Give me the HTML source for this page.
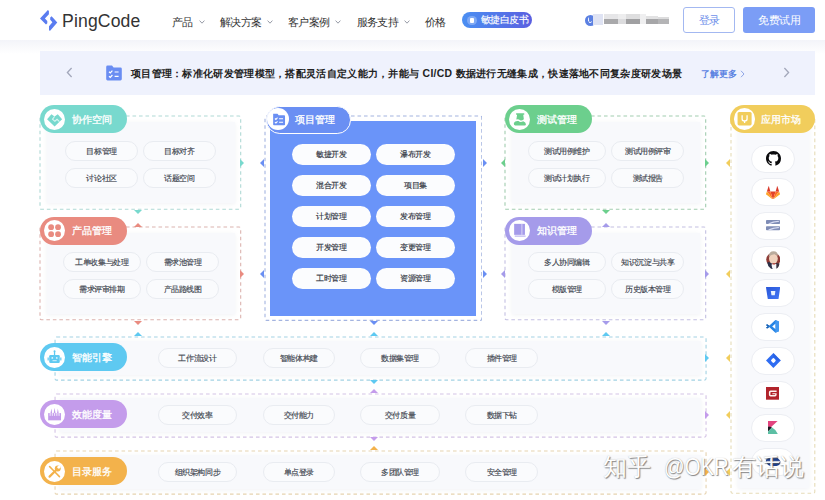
<!DOCTYPE html>
<html><head><meta charset="utf-8"><title>PingCode</title>
<style>
*{box-sizing:border-box;margin:0;padding:0}
html,body{width:825px;height:500px;overflow:hidden;background:#fff}
body{position:relative;font-family:"Liberation Sans",sans-serif;color:#333}
.abs{position:absolute}
.nav{position:absolute;top:14.5px;height:14px;line-height:14px;font-size:10.8px;letter-spacing:-0.6px;color:#333;white-space:nowrap}
.chev{position:absolute;top:19.8px;width:6px;height:4px}
.dash{position:absolute;border:1px dashed;border-radius:2px}
.inner{position:absolute;background:#f8f9fc;box-shadow:0 1px 4px rgba(120,130,160,.10)}
.lab{position:absolute;height:28.2px;border-radius:14.1px;color:#fff;font-size:10px;line-height:28.2px;white-space:nowrap}
.lab i{position:absolute;left:3.6px;top:3.4px;width:21.2px;height:21.2px;border-radius:50%;background:#fff;display:block}
.lab span{position:absolute;left:31.6px;top:0.6px;font-size:10.4px;letter-spacing:0;-webkit-text-stroke:0.3px #fff}
.pill{position:absolute;height:20.5px;border-radius:10.25px;border:1px solid #e9ecf1;background:#fafbfd;font-size:8.2px;letter-spacing:-0.4px;line-height:19px;text-align:center;color:#40454f;-webkit-text-stroke:0.15px #40454f;white-space:nowrap}
.wp{position:absolute;height:21px;border-radius:10.5px;background:#fbfcfe;font-size:8.2px;letter-spacing:-0.4px;line-height:22.4px;text-align:center;color:#2f3440;-webkit-text-stroke:0.15px #2f3440;white-space:nowrap}
.ip{position:absolute;left:751px;width:44px;height:28px;border-radius:14px;border:1px solid #eceef3;background:#fff}
.tri{position:absolute;width:0;height:0;border-style:solid;border-color:transparent}
</style></head><body>

<div class="abs" style="left:0;top:40px;width:825px;height:14px;background:linear-gradient(#f3f4f9,#ffffff)"></div>
<div class="abs" style="left:0;top:0;width:825px;height:40px;background:#fff"></div>
<svg class="abs" style="left:39px;top:9px" width="20" height="23" viewBox="0 0 20 23">
<path d="M8.9 1 L1 9.4 L7 15.6 L8.3 14.3 L8.3 12 L5.9 9.5 L9.9 5.2 L9.9 2 Z" fill="#5a7cf0"/>
<path d="M10.9 22 L18.3 13.4 L12.6 7.2 L11.2 8.6 L11.2 10.8 L13.4 13.3 L10 17.3 L10 21 Z" fill="#5a7cf0"/>
</svg>
<div class="abs" style="left:62px;top:9.6px;font-size:17.6px;line-height:22px;color:#333;letter-spacing:0.15px">PingCode</div>
<div class="nav" style="left:171.5px">产品</div>
<svg class="chev" style="left:198.5px" viewBox="0 0 6 4"><path d="M0.6 0.6 L3 3.2 L5.4 0.6" fill="none" stroke="#8a8f9c" stroke-width="0.9"/></svg>
<div class="nav" style="left:220px">解决方案</div>
<svg class="chev" style="left:266.5px" viewBox="0 0 6 4"><path d="M0.6 0.6 L3 3.2 L5.4 0.6" fill="none" stroke="#8a8f9c" stroke-width="0.9"/></svg>
<div class="nav" style="left:288px">客户案例</div>
<svg class="chev" style="left:335px" viewBox="0 0 6 4"><path d="M0.6 0.6 L3 3.2 L5.4 0.6" fill="none" stroke="#8a8f9c" stroke-width="0.9"/></svg>
<div class="nav" style="left:356.5px">服务支持</div>
<svg class="chev" style="left:403.5px" viewBox="0 0 6 4"><path d="M0.6 0.6 L3 3.2 L5.4 0.6" fill="none" stroke="#8a8f9c" stroke-width="0.9"/></svg>
<div class="nav" style="left:425px">价格</div>
<div class="abs" style="left:461.8px;top:11.7px;width:70.2px;height:16.3px;border-radius:8.2px;background:linear-gradient(90deg,#4b8ff2,#5a5fe0)"></div>
<div class="abs" style="left:467px;top:15.5px;width:9.5px;height:9.5px;border-radius:50%;background:#7fa9f5"></div>
<div class="abs" style="left:470px;top:18px;width:3.5px;height:4.5px;border-radius:1px;background:#fff"></div>
<div class="abs" style="left:481px;top:11.9px;height:16.3px;line-height:16.3px;font-size:9.6px;letter-spacing:-0.6px;-webkit-text-stroke:0.12px #fff;color:#fff;white-space:nowrap">敏捷白皮书</div>
<div class="abs" style="left:584.5px;top:14.5px;width:11px;height:11px;border-radius:50%;background:#5b80e2"></div>
<div class="abs" style="left:588px;top:16.5px;width:4px;height:6px;border-radius:2px;border-left:1.5px solid #fff;border-bottom:1.5px solid #fff;transform:rotate(-10deg)"></div>
<div class="abs" style="left:593px;top:14px;width:10px;height:10.5px;background:#dfe3f3"></div>
<div class="abs" style="left:604px;top:14px;width:14px;height:5px;background:#e6e6e8"></div>
<div class="abs" style="left:604px;top:19px;width:14px;height:5px;background:#a9a9ab"></div>
<div class="abs" style="left:618px;top:14px;width:8px;height:5px;background:#ededee"></div>
<div class="abs" style="left:618px;top:19px;width:8px;height:5px;background:#dcdcde"></div>
<div class="abs" style="left:626px;top:14px;width:14px;height:5px;background:#dededf"></div>
<div class="abs" style="left:626px;top:19px;width:14px;height:5px;background:#a0a0a2"></div>
<div class="abs" style="left:640px;top:14px;width:6px;height:10px;background:#efeff0"></div>
<div class="abs" style="left:646px;top:16px;width:12px;height:3px;background:#e2e2e3"></div>
<div class="abs" style="left:646px;top:19px;width:12px;height:5px;background:#a6a6a8"></div>
<div class="abs" style="left:658px;top:17px;width:11px;height:2px;background:#dcdcdd"></div>
<div class="abs" style="left:658px;top:19px;width:11px;height:5px;background:#b4b4b6"></div>
<div class="abs" style="left:683px;top:7px;width:52px;height:25.5px;border:1px solid #a3b8f1;border-radius:3px;background:#fff;color:#6f90ea;font-size:10.8px;letter-spacing:-0.5px;line-height:25.7px;text-align:center">登录</div>
<div class="abs" style="left:743px;top:7px;width:72px;height:25.5px;border-radius:3px;background:#7b9df6;color:#fff;font-size:10.8px;letter-spacing:-0.5px;line-height:27.7px;text-align:center">免费试用</div>
<div class="abs" style="left:40px;top:51px;width:775px;height:43.5px;background:#eff2fd"></div>
<svg class="abs" style="left:66px;top:67px" width="7" height="11" viewBox="0 0 7 11"><path d="M5.6 1 L1.4 5.5 L5.6 10" fill="none" stroke="#a3a8bb" stroke-width="1.3"/></svg>
<svg class="abs" style="left:782.5px;top:67px" width="7" height="11" viewBox="0 0 7 11"><path d="M1.4 1 L5.6 5.5 L1.4 10" fill="none" stroke="#a3a8bb" stroke-width="1.3"/></svg>
<svg class="abs" style="left:106px;top:65px" width="16" height="16" viewBox="0 0 16 16">
<path d="M1.6 0.6 H6 L7.6 2.4 H14.4 A1.4 1.4 0 0 1 15.8 3.8 V14 A1.4 1.4 0 0 1 14.4 15.4 H1.6 A1.4 1.4 0 0 1 0.2 14 V2 A1.4 1.4 0 0 1 1.6 0.6 Z" fill="#6a8df2"/>
<path d="M3 6.8 L4.3 8 L6.4 5.6 M3 11.2 L4.3 12.4 L6.4 10 M8.6 7 H12.6 M8.6 11.4 H12.6" fill="none" stroke="#fff" stroke-width="1.2"/>
</svg>
<div class="abs" id="btxt" style="left:131px;top:66px;height:16px;line-height:16px;font-size:10.4px;letter-spacing:0.3px;font-weight:bold;color:#222;white-space:nowrap">项目管理：标准化研发管理模型，搭配灵活自定义能力，并能与 CI/CD 数据进行无缝集成，快速落地不同复杂度研发场景</div>
<div class="abs" style="left:700.6px;top:65.7px;height:16px;line-height:16px;font-size:8.9px;font-weight:bold;color:#5b83e2;white-space:nowrap">了解更多</div>
<svg class="abs" style="left:740px;top:70px" width="5" height="8" viewBox="0 0 5 8"><path d="M1 0.8 L4 4 L1 7.2" fill="none" stroke="#8fa6e6" stroke-width="1"/></svg>
<svg class="abs" style="left:39.3px;top:115.0px" width="202.7" height="95.3" viewBox="0 0 202.7 95.3"><rect x="1" y="1" width="200.7" height="93.3" rx="1.5" fill="none" stroke="#afd9d5" stroke-width="1.1" stroke-dasharray="3.6 2.9"/></svg>
<div class="inner" style="left:46.5px;top:122.0px;width:188px;height:81.3px"></div>
<div class="lab" style="left:40px;top:105.2px;width:86.5px;background:#78d9ce"><i></i><svg style="position:absolute;left:3.6px;top:3.4px" width="21.2" height="21.2" viewBox="0 0 21.4 21.4"><path d="M3.1 10.3 L7.5 5.2 L10.7 7.6 L13.9 5.2 L18.3 10.3 L10.7 17.8 Z" fill="#78d9ce"/><path d="M10.7 7.6 L8.6 10.2 L11 12.4 L13.2 10.4 L15.6 12.8" fill="none" stroke="#d9f6f2" stroke-width="1.1"/></svg><span>协作空间</span></div>
<div class="pill" style="left:65.3px;top:140.6px;width:72.6px">目标管理</div>
<div class="pill" style="left:143.2px;top:140.6px;width:72.6px">目标对齐</div>
<div class="pill" style="left:65.3px;top:167.5px;width:72.6px">讨论社区</div>
<div class="pill" style="left:143.2px;top:167.5px;width:72.6px">话题空间</div>
<svg class="abs" style="left:39.3px;top:226.3px" width="202.7" height="94.8" viewBox="0 0 202.7 94.8"><rect x="1" y="1" width="200.7" height="92.8" rx="1.5" fill="none" stroke="#dcb3af" stroke-width="1.1" stroke-dasharray="3.6 2.9"/></svg>
<div class="inner" style="left:46.5px;top:233.3px;width:188px;height:80.8px"></div>
<div class="lab" style="left:40px;top:216.5px;width:86.5px;background:#e98b80"><i></i><svg style="position:absolute;left:3.6px;top:3.4px" width="21.2" height="21.2" viewBox="0 0 21.4 21.4"><circle cx="7.2" cy="7.3" r="2.9" fill="#e98b80"/><circle cx="14.2" cy="7.3" r="2.9" fill="#e98b80"/><circle cx="7.2" cy="14.3" r="2.9" fill="#e98b80"/><circle cx="14.2" cy="14.3" r="2.9" fill="#e98b80"/></svg><span>产品管理</span></div>
<div class="pill" style="left:62.9px;top:251.9px;width:78px">工单收集与处理</div>
<div class="pill" style="left:146.3px;top:251.9px;width:72.8px">需求池管理</div>
<div class="pill" style="left:62.9px;top:278.8px;width:78px">需求评审排期</div>
<div class="pill" style="left:146.3px;top:278.8px;width:72.8px">产品路线图</div>
<svg class="abs" style="left:504.3px;top:115.0px" width="202.7" height="95.3" viewBox="0 0 202.7 95.3"><rect x="1" y="1" width="200.7" height="93.3" rx="1.5" fill="none" stroke="#a2cdb0" stroke-width="1.1" stroke-dasharray="3.6 2.9"/></svg>
<div class="inner" style="left:511.5px;top:122.0px;width:188px;height:81.3px"></div>
<div class="lab" style="left:505px;top:105.2px;width:86.5px;background:#6ccf8d"><i></i><svg style="position:absolute;left:3.6px;top:3.4px" width="21.2" height="21.2" viewBox="0 0 21.4 21.4"><path d="M7.2 4.4 H15.4 V5.8 H14.4 L15 10.4 Q12.4 12.4 10.9 11 Q9.4 9.8 7.4 10.6 L8.2 5.8 H7.2 Z" fill="#6ccf8d"/><path d="M4.9 14.2 Q6.2 11.6 9.6 12.2 Q11.4 14 14.4 12.4 Q17 13.4 17.1 15.4 Q17.1 16.7 15.8 16.7 H6.2 Q4.6 16.7 4.9 14.2 Z" fill="#6ccf8d"/></svg><span>测试管理</span></div>
<div class="pill" style="left:527.9px;top:140.6px;width:77.8px">测试用例维护</div>
<div class="pill" style="left:611.3px;top:140.6px;width:73px">测试用例评审</div>
<div class="pill" style="left:527.9px;top:167.5px;width:77.8px">测试计划执行</div>
<div class="pill" style="left:611.3px;top:167.5px;width:73px">测试报告</div>
<svg class="abs" style="left:504.3px;top:226.3px" width="202.7" height="94.8" viewBox="0 0 202.7 94.8"><rect x="1" y="1" width="200.7" height="92.8" rx="1.5" fill="none" stroke="#c4c0e2" stroke-width="1.1" stroke-dasharray="3.6 2.9"/></svg>
<div class="inner" style="left:511.5px;top:233.3px;width:188px;height:80.8px"></div>
<div class="lab" style="left:505px;top:216.5px;width:86.5px;background:#a59bea"><i></i><svg style="position:absolute;left:3.6px;top:3.4px" width="21.2" height="21.2" viewBox="0 0 21.4 21.4"><rect x="5.2" y="3.9" width="10.9" height="11.1" fill="#a59bea"/><rect x="12.5" y="3.9" width="1" height="11.1" fill="#d8d3f7"/><rect x="5.8" y="15.8" width="11" height="0.9" fill="#a59bea"/></svg><span>知识管理</span></div>
<div class="pill" style="left:527.9px;top:251.9px;width:77.8px">多人协同编辑</div>
<div class="pill" style="left:611.3px;top:251.9px;width:73px">知识沉淀与共享</div>
<div class="pill" style="left:527.9px;top:278.8px;width:77.8px">模版管理</div>
<div class="pill" style="left:611.3px;top:278.8px;width:73px">历史版本管理</div>
<svg class="abs" style="left:263.6px;top:115.0px" width="218.8" height="206.4" viewBox="0 0 218.8 206.4"><rect x="1" y="1" width="216.8" height="204.4" rx="1.5" fill="none" stroke="#a4b4e0" stroke-width="1.1" stroke-dasharray="3.6 2.9"/></svg>
<div class="abs" style="left:269.5px;top:121px;width:206.7px;height:194.5px;background:#6a94f9"></div>
<div class="lab" style="left:265.8px;top:106.4px;width:85.4px;height:27.6px;border-radius:13.8px;border:1.7px solid #fff;background:#6a8ff3;line-height:24.2px"><i style="left:0.7px;top:1px;width:21.8px;height:21.8px"></i><svg style="position:absolute;left:1px;top:1.3px" width="21.2" height="21.2" viewBox="0 0 21.4 21.4"><path d="M5.2 4.8 H9.6 L10.8 6.4 H16.4 Q17.2 6.4 17.2 7.2 V15.6 Q17.2 16.4 16.4 16.4 H6 Q5.2 16.4 5.2 15.6 Z" fill="#6a8ff3"/><path d="M7 9.6 L8 10.6 L9.6 8.8 M7 13.2 L8 14.2 L9.6 12.4 M11.2 9.8 H15.2 M11.2 13.4 H15.2" fill="none" stroke="#fff" stroke-width="1.1"/></svg><span style="left:28.4px">项目管理</span></div>
<div class="wp" style="left:291.5px;top:144px;width:79.4px">敏捷开发</div>
<div class="wp" style="left:375.7px;top:144px;width:79.4px">瀑布开发</div>
<div class="wp" style="left:291.5px;top:175px;width:79.4px">混合开发</div>
<div class="wp" style="left:375.7px;top:175px;width:79.4px">项目集</div>
<div class="wp" style="left:291.5px;top:206px;width:79.4px">计划管理</div>
<div class="wp" style="left:375.7px;top:206px;width:79.4px">发布管理</div>
<div class="wp" style="left:291.5px;top:237px;width:79.4px">开发管理</div>
<div class="wp" style="left:375.7px;top:237px;width:79.4px">变更管理</div>
<div class="wp" style="left:291.5px;top:268px;width:79.4px">工时管理</div>
<div class="wp" style="left:375.7px;top:268px;width:79.4px">资源管理</div>
<svg class="abs" style="left:730.0px;top:115.0px" width="85.8" height="379.3" viewBox="0 0 85.8 379.3"><rect x="1" y="1" width="83.8" height="377.3" rx="1.5" fill="none" stroke="#e6dcb8" stroke-width="1.1" stroke-dasharray="3.6 2.9"/></svg>
<div class="inner" style="left:737.5px;top:122px;width:71px;height:365.5px"></div>
<div class="lab" style="left:730.4px;top:105.1px;width:84.6px;height:27.9px;line-height:27.9px;background:#f1cd5c"><i></i><svg style="position:absolute;left:3.6px;top:3.4px" width="21.2" height="21.2" viewBox="0 0 21.4 21.4"><rect x="3.6" y="4" width="14.2" height="13.6" rx="1.6" fill="#f1cd5c"/><path d="M8.2 7.4 V11 Q8.2 13 10.7 13 Q13.2 13 13.2 11 V7.4 M10.7 13 V15.2" fill="none" stroke="#fff" stroke-width="1.3"/></svg><span style="left:30.5px">应用市场</span></div>
<div class="ip" style="top:144.6px"></div>
<div class="ip" style="top:178.3px"></div>
<div class="ip" style="top:212.0px"></div>
<div class="ip" style="top:245.7px"></div>
<div class="ip" style="top:279.4px"></div>
<div class="ip" style="top:313.1px"></div>
<div class="ip" style="top:346.8px"></div>
<div class="ip" style="top:380.5px"></div>
<div class="ip" style="top:414.2px"></div>
<div class="ip" style="top:447.9px"></div>
<svg class="abs" style="left:765.5px;top:151.1px" width="15" height="15" viewBox="0 0 16 16" preserveAspectRatio="none"><path d="M8 0C3.58 0 0 3.58 0 8c0 3.54 2.29 6.53 5.47 7.59.4.07.55-.17.55-.38 0-.19-.01-.82-.01-1.49-2.01.37-2.53-.49-2.69-.94-.09-.23-.48-.94-.82-1.13-.28-.15-.68-.52-.01-.53.63-.01 1.08.58 1.23.82.72 1.21 1.87.87 2.33.66.07-.52.28-.87.51-1.07-1.78-.2-3.64-.89-3.64-3.95 0-.87.31-1.59.82-2.15-.08-.2-.36-1.02.08-2.12 0 0 .67-.21 2.2.82.64-.18 1.32-.27 2-.27.68 0 1.36.09 2 .27 1.53-1.04 2.2-.82 2.2-.82.44 1.1.16 1.92.08 2.12.51.56.82 1.27.82 2.15 0 3.07-1.87 3.75-3.65 3.95.29.25.54.73.54 1.48 0 1.07-.01 1.93-.01 2.2 0 .21.15.46.55.38A8.013 8.013 0 0016 8c0-4.42-3.58-8-8-8z" fill="#0b0b0d"/></svg>
<svg class="abs" style="left:766.3px;top:185.8px" width="14" height="13.6" viewBox="0 0 14 13.6" preserveAspectRatio="none"><path d="M7 13.6 L4.4 5.4 H9.6 Z" fill="#e24329"/><path d="M7 13.6 L4.4 5.4 H0.9 Z" fill="#fc6d26"/><path d="M7 13.6 L9.6 5.4 H13.1 Z" fill="#fc6d26"/><path d="M0.9 5.4 L0.1 7.8 Q0 8.2 0.3 8.5 L7 13.6 Z" fill="#fca326"/><path d="M13.1 5.4 L13.9 7.8 Q14 8.2 13.7 8.5 L7 13.6 Z" fill="#fca326"/><path d="M0.9 5.4 H4.4 L2.9 0.4 Q2.7 0 2.5 0.4 Z" fill="#d9392a"/><path d="M13.1 5.4 H9.6 L11.1 0.4 Q11.3 0 11.5 0.4 Z" fill="#d9392a"/></svg>
<svg class="abs" style="left:766.0px;top:220.4px" width="14" height="10.4" viewBox="0 0 14 10.4" preserveAspectRatio="none"><rect x="0" y="0" width="14" height="4" rx="0.8" fill="#7f8db6"/><path d="M2 3.4 Q7 1 12.5 0.8 L13.4 1.8 Q8 2.4 4 4 Z" fill="#d7dcf3"/><rect x="0" y="6.2" width="14" height="4" rx="0.8" fill="#7f8db6"/><path d="M2 9.6 Q7 7.2 12.5 7 L13.4 8 Q8 8.6 4 10.2 Z" fill="#d7dcf3"/></svg>
<svg class="abs" style="left:765.7px;top:250.5px" width="14.6" height="18.6" viewBox="0 0 13.6 18.6" preserveAspectRatio="none"><ellipse cx="6.8" cy="8.6" rx="6.6" ry="6.8" fill="#8e3b36"/><path d="M1.6 11 Q0.8 15 4.4 17.6 L7 18.4 L7 12 Z" fill="#2b2f47"/><path d="M9 12 L12.6 12.4 Q12.4 15 10.8 17 L8.8 18 Z" fill="#3a3340"/><path d="M5.4 13 H9.6 V18.6 H6.6 Q5 16.4 5.4 13 Z" fill="#f7f7fa"/><ellipse cx="6.9" cy="7.6" rx="4.1" ry="5.2" fill="#efd2bd"/><path d="M2.6 6 Q2.6 0.4 6.9 0.2 Q11.2 0.4 11.2 5 Q9.4 3 6.9 3.4 Q4.2 3.4 2.6 6 Z" fill="#b9ab9c"/><rect x="6" y="12.2" width="2.6" height="1.2" rx="0.5" fill="#b03a34"/></svg>
<svg class="abs" style="left:766.1px;top:286.9px" width="14.2" height="12.2" viewBox="0 0 14.2 12.2" preserveAspectRatio="none"><defs><linearGradient id="bb" x1="0" y1="0" x2="1" y2="1"><stop offset="0" stop-color="#2a57d8"/><stop offset="1" stop-color="#4277f6"/></linearGradient></defs><path d="M0.4 0 H13.8 Q14.3 0 14.2 0.5 L12.6 11.6 Q12.5 12.2 11.9 12.2 H2.4 Q1.8 12.2 1.7 11.6 L0 0.5 Q-0.1 0 0.4 0 Z" fill="url(#bb)"/><path d="M4.8 4 H9.4 L8.8 8.2 H5.5 Z" fill="#e9f3ff"/></svg>
<svg class="abs" style="left:765.7px;top:320.0px" width="13.4" height="12.8" viewBox="0 0 13.4 12.8" preserveAspectRatio="none"><path d="M9.4 0 L13.4 1.8 V11 L9.4 12.8 L3.2 7 L1.2 8.6 L0 7.8 L1.6 6.4 L0 5 L1.2 4.2 L3.2 5.8 Z" fill="#2684e4"/><path d="M9.6 3.6 L6.2 6.4 L9.6 9.2 Z" fill="#fff"/><path d="M9.4 0 L13.4 1.8 V11 L9.4 12.8 Z" fill="#4a9df2" opacity=".8"/><path d="M0 5 L1.2 4.2 L3.6 6.1 L2.2 7 Z M0 7.8 L1.2 8.6 L3.4 6.9 L2.2 6 Z" fill="#1c5fae"/></svg>
<svg class="abs" style="left:766.0px;top:352.5px" width="14.8" height="15" viewBox="0 0 14.8 15" preserveAspectRatio="none"><path d="M7.4 0 L14.8 7.5 L7.4 15 L0 7.5 Z" fill="#2f6df2"/><path d="M7.4 0 L14.8 7.5 L11.2 7.5 L7.4 3.6 Z" fill="#2359d8" opacity=".55"/><rect x="5.4" y="5.5" width="4" height="4" rx="1.2" fill="#fff" transform="rotate(45 7.4 7.5)"/></svg>
<svg class="abs" style="left:766.4px;top:387.0px" width="13" height="12.7" viewBox="0 0 13 12.7" preserveAspectRatio="none"><rect width="13" height="12.7" fill="#b1232b"/><path d="M10.6 3.6 H4.6 Q2.9 3.6 2.9 5.2 V7.8 Q2.9 9.4 4.6 9.4 H9 Q10.6 9.4 10.6 7.8 V6.2 H6.4 V7.2 H9.2 V7.6 Q9.2 8.1 8.6 8.1 H5 Q4.4 8.1 4.4 7.6 V5.4 Q4.4 4.9 5 4.9 H10.6 Z" fill="#fdf3f0"/></svg>
<svg class="abs" style="left:767.8px;top:420.8px" width="9.8" height="13" viewBox="0 0 9.8 13" preserveAspectRatio="none"><path d="M0 0 H9.6 L2.6 6.4 L0 5.6 Z" fill="#e2457f"/><path d="M0 5.4 Q2.2 5.4 4 6.6 L0 10.6 Z" fill="#17171f"/><path d="M4 6.6 Q8 8.6 9.8 13 H0 V10.6 Z" fill="#5cbfa4"/></svg>
<svg class="abs" style="left:765.4px;top:456.6px" width="15.6" height="9.4" viewBox="0 0 15.6 9.4" preserveAspectRatio="none"><path d="M1 5 Q0.4 1.4 4 1 Q6 -0.4 9 0.4 Q13 0 14.6 3 Q16.2 5 14.6 7.4 Q12 9.6 8 9.2 Q3 9.6 1 5 Z" fill="#1d3f8e"/><path d="M5.6 0.6 V8.8 M1.4 4.4 H15" stroke="#eef2fb" stroke-width="0.9"/></svg>
<svg class="abs" style="left:54.2px;top:335.6px" width="653.1" height="45.1" viewBox="0 0 653.1 45.1"><rect x="1" y="1" width="651.1" height="43.1" rx="1.5" fill="none" stroke="#a3d2e3" stroke-width="1.1" stroke-dasharray="3.6 2.9"/></svg>
<div class="inner" style="left:60px;top:340.9px;width:641px;height:34px"></div>
<div class="lab" style="left:40px;top:343.4px;width:87px;height:27.8px;line-height:27.8px;background:#5ec9f1"><i></i><svg style="position:absolute;left:3.6px;top:3.4px" width="21.2" height="21.2" viewBox="0 0 21.4 21.4"><rect x="5.3" y="8.1" width="10.6" height="8.1" rx="1.2" fill="#5ec9f1"/><rect x="10" y="4.2" width="1.3" height="4" fill="#5ec9f1"/><circle cx="10.65" cy="4.4" r="1" fill="#5ec9f1"/><rect x="3.6" y="10.6" width="1.2" height="3" fill="#5ec9f1"/><rect x="16.4" y="10.6" width="1.2" height="3" fill="#5ec9f1"/><circle cx="8.4" cy="11" r="0.9" fill="#dff4fc"/><circle cx="12.9" cy="11" r="0.9" fill="#dff4fc"/><rect x="8.6" y="13.4" width="4.2" height="0.9" fill="#dff4fc"/></svg><span>智能引擎</span></div>
<div class="pill" style="left:157.6px;top:347.6px;width:79.6px">工作流设计</div>
<div class="pill" style="left:262.6px;top:347.6px;width:72.6px">智能体构建</div>
<div class="pill" style="left:360.4px;top:347.6px;width:79.4px">数据集管理</div>
<div class="pill" style="left:465.4px;top:347.6px;width:72.8px">插件管理</div>
<svg class="abs" style="left:54.2px;top:392.6px" width="653.1" height="45.1" viewBox="0 0 653.1 45.1"><rect x="1" y="1" width="651.1" height="43.1" rx="1.5" fill="none" stroke="#d4c3e5" stroke-width="1.1" stroke-dasharray="3.6 2.9"/></svg>
<div class="inner" style="left:60px;top:397.9px;width:641px;height:34px"></div>
<div class="lab" style="left:40px;top:400.4px;width:87px;height:27.8px;line-height:27.8px;background:#c49ceb"><i></i><svg style="position:absolute;left:3.6px;top:3.4px" width="21.2" height="21.2" viewBox="0 0 21.4 21.4"><rect x="4.2" y="9.2" width="13" height="7.3" fill="#c49ceb"/><path d="M7.4 4.6 L8.2 9.2 H6.6 Z M10.7 3.8 L11.6 9.2 H9.8 Z M14 4.6 L14.8 9.2 H13.2 Z" fill="#c49ceb"/><path d="M6.2 9.2 V12 M8.4 9.2 V12 M10.7 9.2 V12 M13 9.2 V12 M15.2 9.2 V12" stroke="#fff" stroke-width="0.8"/></svg><span>效能度量</span></div>
<div class="pill" style="left:157.6px;top:404.6px;width:79.6px">交付效率</div>
<div class="pill" style="left:262.6px;top:404.6px;width:72.6px">交付能力</div>
<div class="pill" style="left:360.4px;top:404.6px;width:79.4px">交付质量</div>
<div class="pill" style="left:465.4px;top:404.6px;width:72.8px">数据下钻</div>
<svg class="abs" style="left:54.2px;top:449.6px" width="653.1" height="45.1" viewBox="0 0 653.1 45.1"><rect x="1" y="1" width="651.1" height="43.1" rx="1.5" fill="none" stroke="#e6d3b0" stroke-width="1.1" stroke-dasharray="3.6 2.9"/></svg>
<div class="inner" style="left:60px;top:454.9px;width:641px;height:34px"></div>
<div class="lab" style="left:40px;top:457.4px;width:87px;height:27.8px;line-height:27.8px;background:#f3b24b"><i></i><svg style="position:absolute;left:3.6px;top:3.4px" width="21.2" height="21.2" viewBox="0 0 21.4 21.4"><path d="M5.6 5.6 L15.6 15.8" stroke="#f3b24b" stroke-width="1.5" stroke-linecap="round"/><path d="M5.2 5.2 L7.6 6.4 L6.4 7.6 Z" fill="#f3b24b"/><path d="M5.6 15.8 L12.6 8.8" stroke="#f3b24b" stroke-width="2.2" stroke-linecap="round"/><circle cx="13.9" cy="7.6" r="3" fill="#f3b24b"/><circle cx="15" cy="6.4" r="1.5" fill="#fff"/></svg><span>目录服务</span></div>
<div class="pill" style="left:157.6px;top:461.6px;width:79.6px">组织架构同步</div>
<div class="pill" style="left:262.6px;top:461.6px;width:72.6px">单点登录</div>
<div class="pill" style="left:360.4px;top:461.6px;width:79.4px">多团队管理</div>
<div class="pill" style="left:465.4px;top:461.6px;width:72.8px">安全管理</div>
<div class="tri" style="left:240.4px;top:158.8px;border-width:4.2px 0 4.2px 4.4px;border-left-color:#78d9ce"></div>
<div class="tri" style="left:260.1px;top:158.8px;border-width:4.2px 4.4px 4.2px 0;border-right-color:#6a8ff3"></div>
<div class="tri" style="left:482.5px;top:158.8px;border-width:4.2px 0 4.2px 4.4px;border-left-color:#6a8ff3"></div>
<div class="tri" style="left:500.6px;top:158.8px;border-width:4.2px 4.4px 4.2px 0;border-right-color:#6ccf8d"></div>
<div class="tri" style="left:705px;top:158.8px;border-width:4.2px 0 4.2px 4.4px;border-left-color:#6ccf8d"></div>
<div class="tri" style="left:726.4px;top:158.8px;border-width:4.2px 4.4px 4.2px 0;border-right-color:#f1cd5c"></div>
<div class="tri" style="left:240.4px;top:269.8px;border-width:4.2px 0 4.2px 4.4px;border-left-color:#e98b80"></div>
<div class="tri" style="left:260.1px;top:269.8px;border-width:4.2px 4.4px 4.2px 0;border-right-color:#6a8ff3"></div>
<div class="tri" style="left:482.5px;top:269.8px;border-width:4.2px 0 4.2px 4.4px;border-left-color:#6a8ff3"></div>
<div class="tri" style="left:500.6px;top:269.8px;border-width:4.2px 4.4px 4.2px 0;border-right-color:#a59bea"></div>
<div class="tri" style="left:705px;top:269.8px;border-width:4.2px 0 4.2px 4.4px;border-left-color:#a59bea"></div>
<div class="tri" style="left:726.4px;top:269.8px;border-width:4.2px 4.4px 4.2px 0;border-right-color:#f1cd5c"></div>
<div class="tri" style="left:705.3px;top:353.8px;border-width:4.2px 0 4.2px 4.4px;border-left-color:#5ec9f1"></div>
<div class="tri" style="left:726.4px;top:353.8px;border-width:4.2px 4.4px 4.2px 0;border-right-color:#f1cd5c"></div>
<div class="tri" style="left:705.3px;top:411.1px;border-width:4.2px 0 4.2px 4.4px;border-left-color:#c49ceb"></div>
<div class="tri" style="left:726.4px;top:411.1px;border-width:4.2px 4.4px 4.2px 0;border-right-color:#f1cd5c"></div>
<div class="tri" style="left:705.3px;top:467.8px;border-width:4.2px 0 4.2px 4.4px;border-left-color:#f3b24b"></div>
<div class="tri" style="left:726.4px;top:467.8px;border-width:4.2px 4.4px 4.2px 0;border-right-color:#f1cd5c"></div>
<div class="tri" style="left:133.8px;top:209.8px;border-width:4.4px 4.2px 0 4.2px;border-top-color:#78d9ce"></div>
<div class="tri" style="left:133.8px;top:222.9px;border-width:0 4.2px 4.4px 4.2px;border-bottom-color:#e98b80"></div>
<div class="tri" style="left:133.8px;top:320.5px;border-width:4.4px 4.2px 0 4.2px;border-top-color:#e98b80"></div>
<div class="tri" style="left:133.8px;top:331.6px;border-width:0 4.2px 4.4px 4.2px;border-bottom-color:#5ec9f1"></div>
<div class="tri" style="left:601.5px;top:209.8px;border-width:4.4px 4.2px 0 4.2px;border-top-color:#6ccf8d"></div>
<div class="tri" style="left:601.5px;top:222.9px;border-width:0 4.2px 4.4px 4.2px;border-bottom-color:#a59bea"></div>
<div class="tri" style="left:601.5px;top:320.5px;border-width:4.4px 4.2px 0 4.2px;border-top-color:#a59bea"></div>
<div class="tri" style="left:601.5px;top:331.6px;border-width:0 4.2px 4.4px 4.2px;border-bottom-color:#5ec9f1"></div>
<div class="tri" style="left:369.6px;top:321px;border-width:4.4px 4.2px 0 4.2px;border-top-color:#6a8ff3"></div>
<div class="tri" style="left:369.6px;top:331.6px;border-width:0 4.2px 4.4px 4.2px;border-bottom-color:#5ec9f1"></div>
<div class="tri" style="left:369.6px;top:380px;border-width:4.4px 4.2px 0 4.2px;border-top-color:#5ec9f1"></div>
<div class="tri" style="left:369.6px;top:388.6px;border-width:0 4.2px 4.4px 4.2px;border-bottom-color:#c49ceb"></div>
<div class="tri" style="left:369.6px;top:437px;border-width:4.4px 4.2px 0 4.2px;border-top-color:#c49ceb"></div>
<div class="tri" style="left:369.6px;top:445.6px;border-width:0 4.2px 4.4px 4.2px;border-bottom-color:#f3b24b"></div>
<div id="wm1" style="position:absolute;top:453px;height:28px;line-height:28px;color:#fff;white-space:nowrap;text-shadow:1px 1px 1px rgba(90,90,90,.75),0 0 1px rgba(120,120,120,.5);opacity:.95;left:602.6px;font-size:23.7px">知乎</div>
<div id="wm2" style="position:absolute;top:453px;height:28px;line-height:28px;color:#fff;white-space:nowrap;text-shadow:1px 1px 1px rgba(90,90,90,.75),0 0 1px rgba(120,120,120,.5);opacity:.95;left:664.4px;font-size:23.4px;transform:scaleX(.87);transform-origin:0 50%">@OKR</div>
<div id="wm3" style="position:absolute;top:453px;height:28px;line-height:28px;color:#fff;white-space:nowrap;text-shadow:1px 1px 1px rgba(90,90,90,.75),0 0 1px rgba(120,120,120,.5);opacity:.95;left:732.3px;font-size:23.7px">有话说</div>
</body></html>
